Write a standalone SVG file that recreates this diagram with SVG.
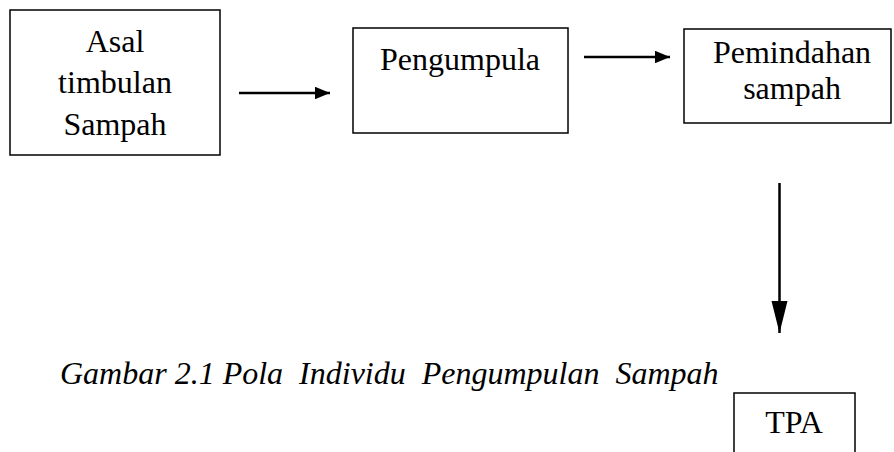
<svg xmlns="http://www.w3.org/2000/svg" width="894" height="452" viewBox="0 0 894 452">
<style>
.box{fill:#fff;stroke:#000;stroke-width:1.5}
.t{font-family:"Liberation Serif","Times New Roman",serif;font-size:32px;fill:#000;text-anchor:middle}
.cap{font-family:"Liberation Serif","Times New Roman",serif;font-size:32px;font-style:italic;fill:#000;white-space:pre}
.ln{stroke:#000;stroke-width:2.5;fill:none}
</style>
<defs>
<marker id="ah" viewBox="0 0 10 10" refX="10" refY="5" markerWidth="6" markerHeight="5" markerUnits="strokeWidth" orient="auto" preserveAspectRatio="none">
<path d="M0,0 L10,5 L0,10 Z" fill="#000"/>
</marker>
<marker id="ahd" viewBox="0 0 10 10" refX="10" refY="5" markerWidth="13" markerHeight="6.5" markerUnits="strokeWidth" orient="auto" preserveAspectRatio="none">
<path d="M0,0 L10,5 L0,10 Z" fill="#000"/>
</marker>
</defs>
<g id="n1">
<rect class="box" x="10" y="10" width="210" height="145"/>
<text class="t" x="115" y="52">Asal</text>
<text class="t" x="115" y="93">timbulan</text>
<text class="t" x="115" y="135">Sampah</text>
</g>
<g id="n2">
<rect class="box" x="353" y="28" width="215" height="105"/>
<text class="t" x="460" y="70">Pengumpula</text>
</g>
<g id="n3">
<rect class="box" x="684" y="29" width="207" height="94"/>
<text class="t" x="792" y="63">Pemindahan</text>
<text class="t" x="792" y="99">sampah</text>
</g>
<g id="n4">
<rect class="box" x="734" y="393" width="121" height="70"/>
<text class="t" x="794" y="433">TPA</text>
</g>
<g id="edges">
<line class="ln" x1="239" y1="93" x2="330" y2="93" marker-end="url(#ah)"/>
<line class="ln" x1="584" y1="57" x2="670" y2="57" marker-end="url(#ah)"/>
<line class="ln" x1="779.5" y1="183" x2="779.5" y2="333" marker-end="url(#ahd)"/>
</g>
<text class="cap" x="60" y="384">Gambar 2.1 Pola  Individu  Pengumpulan  Sampah</text>
</svg>
